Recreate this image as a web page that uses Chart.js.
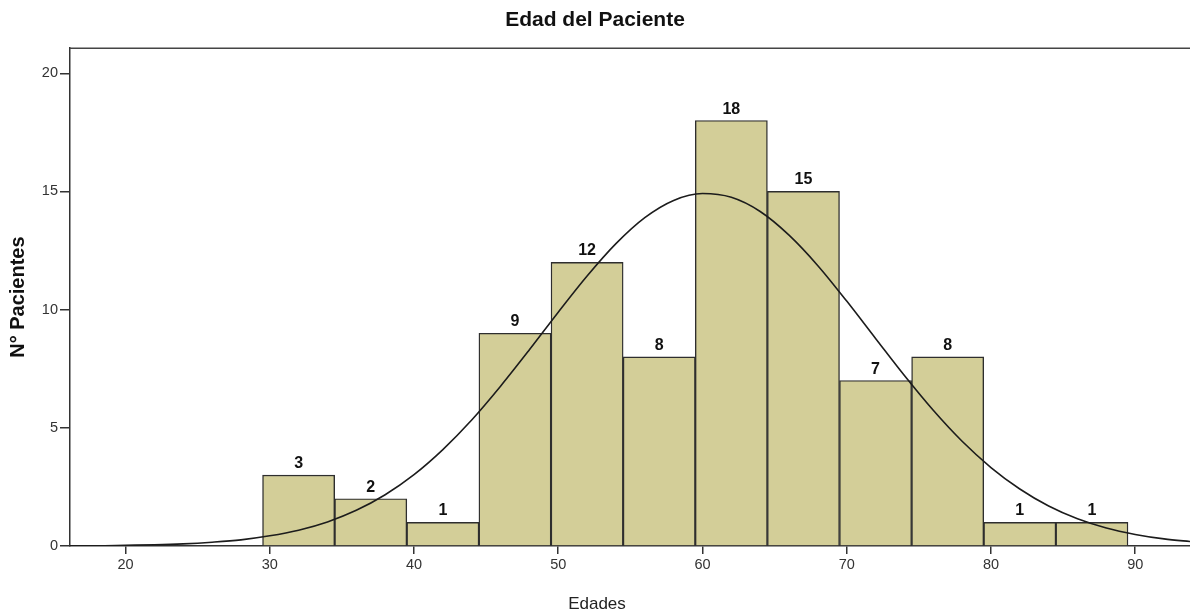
<!DOCTYPE html>
<html>
<head>
<meta charset="utf-8">
<title>Edad del Paciente</title>
<script src="https://cdn.jsdelivr.net/npm/chart.js@4/dist/chart.umd.min.js"></script>
<style>
  html, body { margin: 0; padding: 0; background: #fff; }
  #wrap { width: 1190px; height: 613px; position: relative; }
</style>
</head>
<body>
<div id="wrap"><canvas id="hist"></canvas></div>
<script>
/* global Chart */

// histogram bins (5-year wide, centre values) and patient counts
const binCenters = [32, 37, 42, 47, 52, 57, 62, 67, 72, 77, 82, 87]
const counts = [3, 2, 1, 9, 12, 8, 18, 15, 7, 8, 1, 1]

// normal curve, every 2 years
const curveX = [16, 18, 20, 22, 24, 26, 28, 30, 32, 34, 36, 38, 40, 42, 44, 46, 48, 50, 52, 54, 56, 58,
  60, 62, 64, 66, 68, 70, 72, 74, 76, 78, 80, 82, 84, 86, 88, 90, 92, 94]
const curveY = [0.01, 0.01, 0.03, 0.05, 0.09, 0.16, 0.26, 0.43, 0.67, 1.02, 1.51, 2.17, 3.02, 4.08, 5.33, 6.76,
  8.30, 9.89, 11.42, 12.79, 13.89, 14.62, 14.91, 14.75, 14.15, 13.15, 11.86, 10.36, 8.78, 7.21, 5.74, 4.43,
  3.32, 2.41, 1.69, 1.15, 0.76, 0.49, 0.30, 0.18]

const xTicks = [20, 30, 40, 50, 60, 70, 80, 90]
const yTicks = [0, 5, 10, 15, 20]

const FONT = '"Liberation Sans", Arial, Helvetica, sans-serif'

const histExtras = {
  id: 'histExtras',
  afterDatasetsDraw(chart) {
    const { ctx, chartArea: a, scales: { x, y } } = chart
    ctx.save()
    // count above each bar
    ctx.fillStyle = '#111'
    ctx.font = `bold 16px ${FONT}`
    ctx.textAlign = 'center'
    ctx.textBaseline = 'alphabetic'
    binCenters.forEach((c, i) => {
      ctx.fillText(String(counts[i]), x.getPixelForValue(c), y.getPixelForValue(counts[i]) - 7)
    })
    // top edge of the frame (right edge is cropped in the original)
    ctx.strokeStyle = '#444'
    ctx.lineWidth = 1.5
    ctx.beginPath()
    ctx.moveTo(a.left, a.top)
    ctx.lineTo(a.right, a.top)
    ctx.stroke()
    // x axis title
    ctx.fillStyle = '#222'
    ctx.font = `17px ${FONT}`
    ctx.textBaseline = 'middle'
    ctx.fillText('Edades', 597, 604)
    ctx.restore()
  }
}

const ctx = document.getElementById('hist')

new Chart(ctx, {
  type: 'bar',
  data: {
    datasets: [
      {
        type: 'line',
        data: curveX.map((v, i) => ({ x: v, y: curveY[i] })),
        borderColor: '#1c1c1c',
        borderWidth: 1.6,
        pointRadius: 0,
        cubicInterpolationMode: 'monotone',
        fill: false,
        order: 0
      },
      {
        type: 'bar',
        data: binCenters.map((c, i) => ({ x: c, y: counts[i] })),
        backgroundColor: '#d3ce98',
        borderColor: '#2e2e2e',
        borderWidth: 1.4,
        barPercentage: 1,
        categoryPercentage: 1,
        order: 1
      }
    ]
  },
  options: {
    responsive: true,
    maintainAspectRatio: false,
    animation: false,
    layout: { padding: 0 },
    plugins: {
      legend: { display: false },
      tooltip: { enabled: false },
      title: {
        display: true,
        text: 'Edad del Paciente',
        color: '#111',
        font: { family: FONT, size: 21, weight: 'bold' },
        padding: { top: 8, bottom: 15 }
      }
    },
    scales: {
      x: {
        type: 'linear',
        min: 16.15,
        max: 93.8,
        offset: false,
        grid: { offset: false, drawOnChartArea: false, drawTicks: true, tickLength: 8, color: '#333', lineWidth: 1.5 },
        border: { display: true, color: '#333', width: 1.5 },
        ticks: { color: '#333', padding: 2, font: { family: FONT, size: 14.5 } },
        afterBuildTicks: s => { s.ticks = xTicks.map(v => ({ value: v })) },
        afterFit: s => { s.height = 67 }
      },
      y: {
        min: 0,
        max: 21.06,
        grid: { drawOnChartArea: false, drawTicks: true, tickLength: 10, color: '#333', lineWidth: 1.5 },
        border: { display: true, color: '#333', width: 1.5 },
        ticks: { color: '#333', padding: 2, font: { family: FONT, size: 14.5 } },
        afterBuildTicks: s => { s.ticks = yTicks.map(v => ({ value: v })) },
        title: {
          display: true,
          text: 'N° Pacientes',
          color: '#111',
          font: { family: FONT, size: 20, weight: 'bold' },
          padding: { top: 6, bottom: 0 }
        },
        afterFit: s => { s.width = 70 }
      }
    }
  },
  plugins: [histExtras]
})
</script>
</body>
</html>
